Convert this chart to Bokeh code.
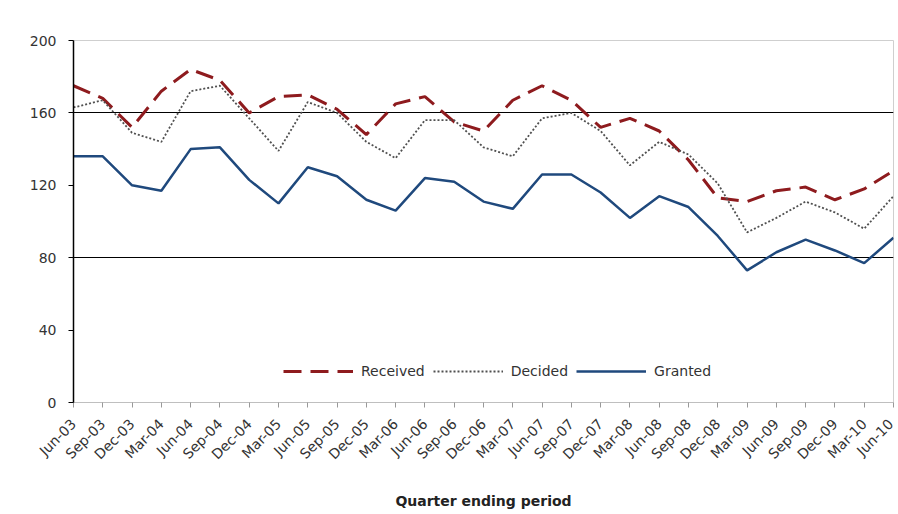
import math
from bokeh.plotting import figure
from bokeh.models import Range1d, FixedTicker, Legend, LegendItem
from bokeh.embed import file_html
from bokeh.resources import INLINE

quarters = ["Jun-03", "Sep-03", "Dec-03", "Mar-04", "Jun-04", "Sep-04", "Dec-04",
            "Mar-05", "Jun-05", "Sep-05", "Dec-05", "Mar-06", "Jun-06", "Sep-06",
            "Dec-06", "Mar-07", "Jun-07", "Sep-07", "Dec-07", "Mar-08", "Jun-08",
            "Sep-08", "Dec-08", "Mar-09", "Jun-09", "Sep-09", "Dec-09", "Mar-10", "Jun-10"]
received = [175, 168, 152, 172, 184, 178, 160, 169, 170, 162, 148, 165, 169, 155, 150,
            167, 175, 167, 152, 157, 150, 134, 113, 111, 117, 119, 112, 118, 128]
decided = [163, 167, 149, 144, 172, 175, 157, 139, 166, 160, 144, 135, 156, 156, 141,
           136, 157, 160, 150, 131, 144, 137, 121, 94, 102, 111, 105, 96, 114]
granted = [136, 136, 120, 117, 140, 141, 123, 110, 130, 125, 112, 106, 124, 122, 111,
           107, 126, 126, 116, 102, 114, 108, 92, 73, 83, 90, 84, 77, 91]
y_ticks = [0, 40, 80, 120, 160, 200]
grid_levels = [80, 160]

x = list(range(len(quarters)))

p = figure(width=896, height=512, output_backend="svg", toolbar_location=None,
           x_range=Range1d(0, len(quarters) - 1), y_range=Range1d(0, 200),
           min_border_left=73, min_border_right=3, min_border_top=40, min_border_bottom=105)
p.background_fill_color = "white"
p.border_fill_color = "white"
p.outline_line_color = "#cfcfcf"

r_rec = p.line(x, received, line_color="#8E1B1E", line_width=3, line_dash="18 9")
r_dec = p.line(x, decided, line_color="#505050", line_width=1.8, line_dash="2 2")
r_gra = p.line(x, granted, line_color="#1F497D", line_width=2.5)

p.xgrid.visible = False
p.ygrid.ticker = FixedTicker(ticks=grid_levels)
p.ygrid.grid_line_color = "black"
p.ygrid.grid_line_width = 1

p.yaxis.ticker = FixedTicker(ticks=y_ticks)
p.yaxis.axis_line_color = "black"
p.yaxis.axis_line_width = 1.5
p.yaxis.major_tick_out = 5
p.yaxis.major_tick_in = 0
p.yaxis.minor_tick_line_color = None
p.yaxis.major_label_text_font = "DejaVu Sans"
p.yaxis.major_label_text_font_size = "14px"
p.yaxis.major_label_text_color = "#333333"
p.yaxis.major_label_standoff = 12

p.xaxis.ticker = FixedTicker(ticks=x)
p.xaxis.major_label_overrides = {i: q for i, q in enumerate(quarters)}
p.xaxis.major_label_orientation = math.pi / 4
p.xaxis.axis_line_color = "#bfbfbf"
p.xaxis.major_tick_line_color = "#999999"
p.xaxis.major_tick_out = 5
p.xaxis.major_tick_in = 0
p.xaxis.minor_tick_line_color = None
p.xaxis.major_label_text_font = "DejaVu Sans"
p.xaxis.major_label_text_font_size = "14px"
p.xaxis.major_label_text_color = "#333333"
p.xaxis.major_label_standoff = 14
p.xaxis.axis_label = "Quarter ending period"
p.xaxis.axis_label_text_font = "DejaVu Sans"
p.xaxis.axis_label_text_font_size = "14px"
p.xaxis.axis_label_text_font_style = "bold"
p.xaxis.axis_label_text_color = "#222222"
p.xaxis.axis_label_standoff = 22

legend = Legend(items=[LegendItem(label="Received", renderers=[r_rec]),
                       LegendItem(label="Decided", renderers=[r_dec]),
                       LegendItem(label="Granted", renderers=[r_gra])],
                orientation="horizontal", location=(210, 21))
legend.border_line_color = None
legend.background_fill_alpha = 0
legend.glyph_width = 70
legend.label_standoff = 8
legend.spacing = 8
legend.padding = 4
legend.margin = 0
legend.label_text_font = "DejaVu Sans"
legend.label_text_font_size = "14px"
legend.label_text_color = "#333333"
p.add_layout(legend, "center")

open("out.html", "w").write(file_html(p, INLINE))
